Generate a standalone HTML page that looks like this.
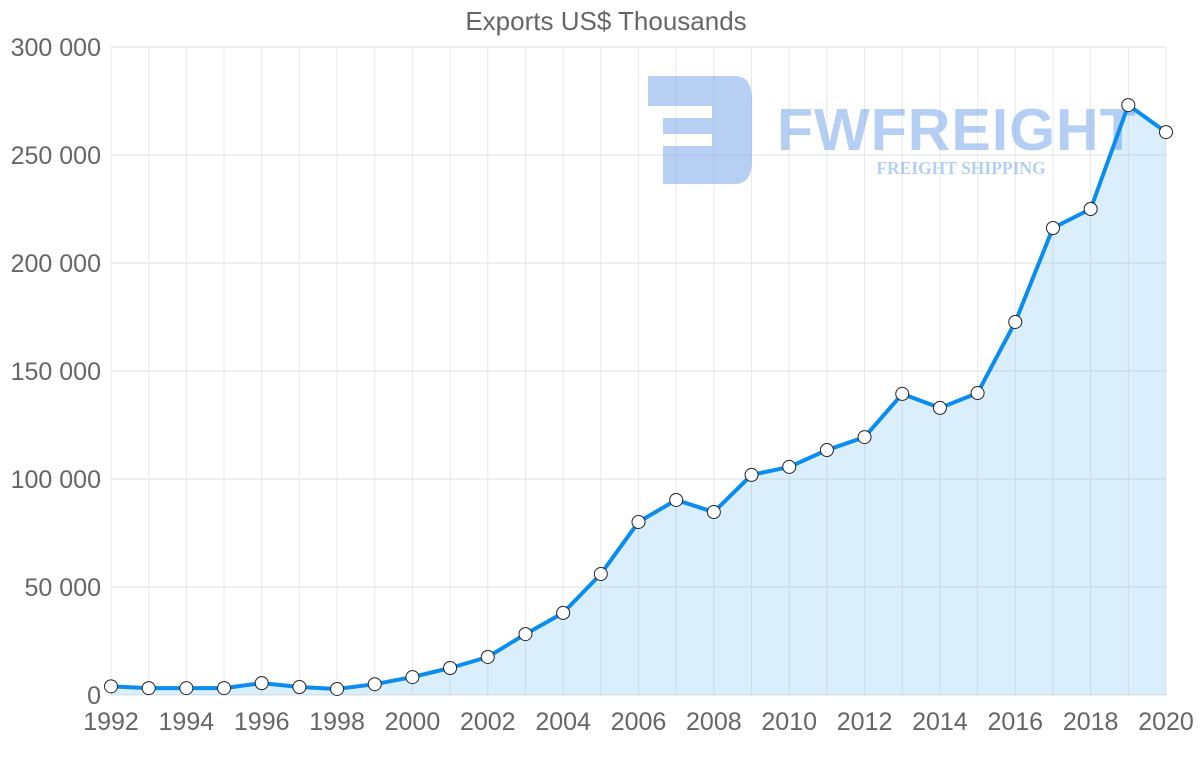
<!DOCTYPE html>
<html><head><meta charset="utf-8">
<style>
html,body{margin:0;padding:0;background:#fff;}
svg{display:block;font-family:"Liberation Sans",sans-serif;}
</style></head>
<body>
<svg id="chart" width="1200" height="763" viewBox="0 0 1200 763">
  <text x="606" y="30" text-anchor="middle" font-size="26" fill="#666">Exports US$ Thousands</text>
  <g id="grid"></g>
  <g opacity="0.55">
    <path d="M648 76 H735 Q752 76 752 100 V160 Q752 184 735 184 H663 V146 H712 V134 H663 V118 H712 V106 H648 Z" fill="#7aa7ea"/>
    <text x="777" y="150" font-size="59" font-weight="bold" fill="#7aa7ea" letter-spacing="1">FWFREIGHT</text>
    <text x="961" y="174" text-anchor="middle" font-size="17.5" font-weight="bold" font-family="Liberation Serif,serif" fill="#7aa7ea">FREIGHT SHIPPING</text>
  </g>
  <g id="series"></g>
  <g id="axes"></g>
</svg>
<script>
const years = [1992,1993,1994,1995,1996,1997,1998,1999,2000,2001,2002,2003,2004,2005,2006,2007,2008,2009,2010,2011,2012,2013,2014,2015,2016,2017,2018,2019,2020];
const exportsValues = [4000,3200,3200,3200,5500,3700,2800,5000,8300,12500,17600,28200,38000,56000,80100,90300,84700,101900,105600,113400,119400,139400,132900,139800,172700,216200,225000,273100,260600];
const yTicks = [0,50000,100000,150000,200000,250000,300000];
const yTickLabels = ["0","50 000","100 000","150 000","200 000","250 000","300 000"];

const NS="http://www.w3.org/2000/svg";
const L=111,R=1166,T=47,B=695,YMAX=300000;
const x=i=>L+(R-L)*i/(years.length-1);
const y=v=>B-(B-T)*v/YMAX;
function mk(tag,attrs,parent){const e=document.createElementNS(NS,tag);for(const k in attrs)e.setAttribute(k,attrs[k]);parent.appendChild(e);return e;}
const grid=document.getElementById('grid'),axes=document.getElementById('axes'),series=document.getElementById('series');
yTicks.forEach((t,i)=>{
  const ln=mk('line',{x1:L,x2:R,y1:y(t),y2:y(t),stroke:'#e2e2e2','stroke-width':1},grid);
  
  
  const tx=mk('text',{x:101,y:y(t)+9,'text-anchor':'end','font-size':25,fill:'#666'},axes);
  tx.textContent=yTickLabels[i];
  
  
});
years.forEach((yr,i)=>{
  const ln=mk('line',{x1:x(i),x2:x(i),y1:T,y2:B,stroke:'#e8e8e8','stroke-width':1},grid);
  
  
  if(i%2===0){
    const tx=mk('text',{x:x(i),y:730,'text-anchor':'middle','font-size':25,fill:'#666'},axes);
    tx.textContent=yr;
    
    
  }
});
let d=exportsValues.map((v,i)=>(i?'L':'M')+x(i)+' '+y(v)).join(' ');
const area=mk('path',{d:d+` L${x(years.length-1)} ${B} L${x(0)} ${B} Z`,fill:'rgba(54,162,235,0.18)'},series);


const line=mk('path',{d:d,fill:'none',stroke:'#0a8cf0','stroke-width':4,'stroke-linejoin':'round'},series);


exportsValues.forEach((v,i)=>{
  const c=mk('circle',{cx:x(i),cy:y(v),r:6.5,fill:'#fff',stroke:'#222','stroke-width':1},series);
  
  
});
</script>
</body></html>
